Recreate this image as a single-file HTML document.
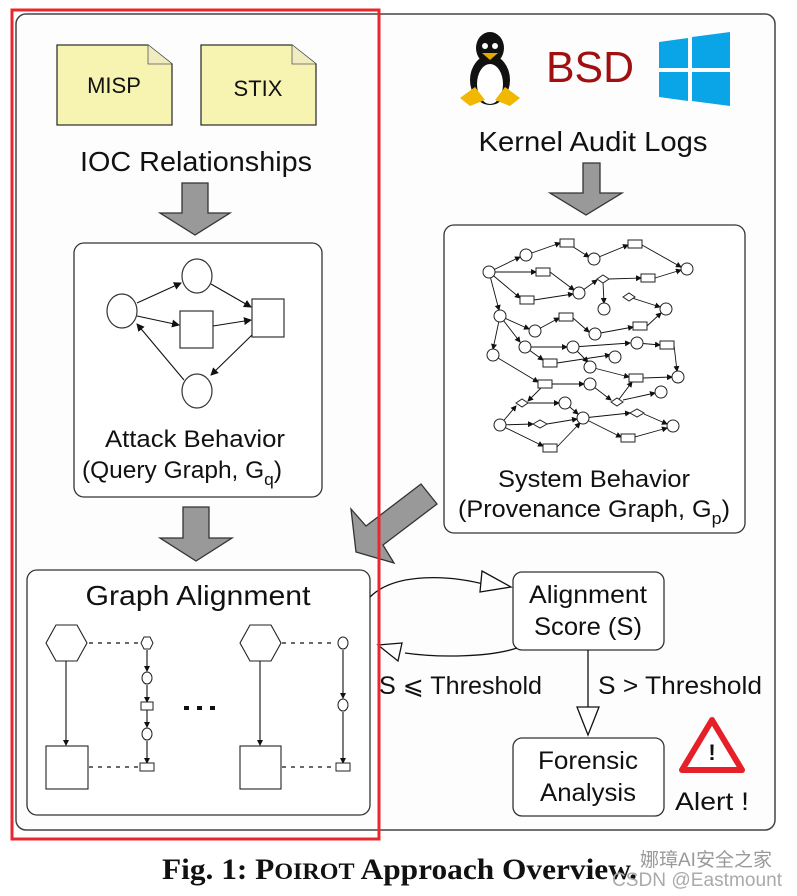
<!DOCTYPE html>
<html><head><meta charset="utf-8"><style>
html,body{margin:0;padding:0;background:#fff;}
svg{display:block;}
text{font-family:"Liberation Sans",sans-serif;fill:#111;}
</style></head><body>
<svg width="797" height="896" viewBox="0 0 797 896" xmlns="http://www.w3.org/2000/svg">
<defs>
<marker id="a" markerWidth="8" markerHeight="8" refX="7" refY="4" orient="auto" markerUnits="userSpaceOnUse"><path d="M0,0 L8,4 L0,8z" fill="#111"/></marker>
<marker id="s" markerWidth="6" markerHeight="6" refX="5" refY="3" orient="auto" markerUnits="userSpaceOnUse"><path d="M0,0 L6,3 L0,6z" fill="#111"/></marker>
</defs>
<rect x="16" y="14" width="759" height="816" rx="10" fill="#fdfdfd" stroke="#444" stroke-width="1.5"/>
<!-- notes -->
<path d="M57,45 H148 L172,64 V125 H57Z" fill="#f7f3b0" stroke="#333" stroke-width="1.3"/>
<path d="M148,45 V64 H172" fill="#f1ecc0" stroke="#555" stroke-width="0.8"/>
<text x="114" y="93" font-size="22" text-anchor="middle">MISP</text>
<path d="M201,45 H292 L316,64 V125 H201Z" fill="#f7f3b0" stroke="#333" stroke-width="1.3"/>
<path d="M292,45 V64 H316" fill="#f1ecc0" stroke="#555" stroke-width="0.8"/>
<text x="258" y="96" font-size="22" text-anchor="middle">STIX</text>
<text x="196" y="171" font-size="28" text-anchor="middle" textLength="232" lengthAdjust="spacingAndGlyphs">IOC Relationships</text>
<!-- big arrows -->
<g fill="#999" stroke="#333" stroke-width="1.3">
<path d="M182,183 H208 V213 H230 L195,235 L160,213 H182Z"/>
<path d="M183,507 H209 V538 H232 L196,561 L160,538 H183Z"/>
<path d="M583,163 H600 V193 H622 L586,215 L550,193 H583Z"/>
<path d="M421,484 L437,504 L383,545 L394,563 L356,552 L351,509 L366,526Z"/>
</g>
<!-- attack box -->
<rect x="74" y="243" width="248" height="254" rx="10" fill="#fff" stroke="#333" stroke-width="1.3"/>
<g fill="#fff" stroke="#333" stroke-width="1.2">
<ellipse cx="122" cy="311" rx="15" ry="17"/>
<ellipse cx="197" cy="276" rx="15" ry="17"/>
<ellipse cx="197" cy="391" rx="15" ry="17"/>
<rect x="180" y="311" width="33" height="37"/>
<rect x="252" y="299" width="32" height="38"/>
</g>
<g stroke="#111" stroke-width="1.1" marker-end="url(#a)">
<line x1="137" y1="303" x2="181" y2="283"/>
<line x1="137" y1="316" x2="179" y2="325"/>
<line x1="211" y1="284" x2="251" y2="307"/>
<line x1="213" y1="326" x2="251" y2="320"/>
<line x1="252" y1="335" x2="211" y2="375"/>
<line x1="184" y1="380" x2="137" y2="324"/>
</g>
<text x="195" y="447" font-size="24" text-anchor="middle" textLength="180" lengthAdjust="spacingAndGlyphs">Attack Behavior</text>
<text x="82" y="478" font-size="24" textLength="200" lengthAdjust="spacingAndGlyphs">(Query Graph, G<tspan font-size="17" dy="7">q</tspan><tspan dy="-7">)</tspan></text>
<!-- right top icons -->
<g>
<ellipse cx="490" cy="80" rx="20" ry="25" fill="#111"/>
<ellipse cx="490" cy="84" rx="13" ry="20" fill="#fff"/>
<ellipse cx="490" cy="48" rx="14" ry="16" fill="#111"/>
<circle cx="485" cy="46" r="3" fill="#fff"/><circle cx="495" cy="46" r="3" fill="#fff"/>
<path d="M482,53 L498,53 L490,60Z" fill="#e6a800"/>
<path d="M460,98 L475,87 L485,100 L470,106Z" fill="#f0b800"/>
<path d="M520,98 L505,87 L495,100 L510,106Z" fill="#f0b800"/>
</g>
<text x="590" y="82" font-size="44" fill="#a01010" style="fill:#a01010" text-anchor="middle" textLength="88" lengthAdjust="spacingAndGlyphs">BSD</text>
<g fill="#0aa5e6">
<path d="M659,42 L688,38 V68 H659Z"/><path d="M692,37 L730,32 V68 H692Z"/>
<path d="M659,72 H688 V101 L659,97Z"/><path d="M692,72 H730 V106 L692,101Z"/>
</g>
<text x="593" y="151" font-size="28" text-anchor="middle" textLength="229" lengthAdjust="spacingAndGlyphs">Kernel Audit Logs</text>
<!-- provenance -->
<rect x="444" y="225" width="301" height="308" rx="10" fill="#fff" stroke="#333" stroke-width="1.3"/>
<g stroke="#111" stroke-width="0.9" fill="none" marker-end="url(#s)">
<line x1="489" y1="272" x2="520" y2="257"/><line x1="526" y1="255" x2="560" y2="243"/><line x1="567" y1="243" x2="589" y2="257"/><line x1="594" y1="259" x2="628" y2="245"/><line x1="642" y1="245" x2="681" y2="267"/>
<line x1="489" y1="272" x2="536" y2="272"/><line x1="550" y1="272" x2="574" y2="290"/><line x1="489" y1="272" x2="520" y2="298"/><line x1="534" y1="300" x2="573" y2="294"/>
<line x1="579" y1="293" x2="597" y2="280"/><line x1="609" y1="279" x2="641" y2="278"/><line x1="603" y1="282" x2="604" y2="303"/><line x1="629" y1="297" x2="660" y2="307"/><line x1="655" y1="278" x2="681" y2="270"/>
<line x1="489" y1="272" x2="499" y2="310"/><line x1="500" y1="316" x2="529" y2="329"/><line x1="535" y1="331" x2="559" y2="318"/><line x1="573" y1="318" x2="589" y2="332"/><line x1="595" y1="334" x2="633" y2="327"/><line x1="647" y1="326" x2="661" y2="313"/>
<line x1="500" y1="316" x2="493" y2="349"/><line x1="500" y1="316" x2="520" y2="342"/><line x1="525" y1="347" x2="567" y2="347"/><line x1="525" y1="347" x2="543" y2="360"/><line x1="573" y1="347" x2="630" y2="343"/><line x1="637" y1="343" x2="660" y2="345"/>
<line x1="573" y1="347" x2="588" y2="362"/><line x1="590" y1="367" x2="629" y2="377"/><line x1="643" y1="378" x2="672" y2="377"/><line x1="674" y1="345" x2="677" y2="371"/><line x1="557" y1="363" x2="610" y2="355"/>
<line x1="493" y1="355" x2="538" y2="382"/><line x1="552" y1="384" x2="584" y2="384"/><line x1="590" y1="384" x2="611" y2="400"/><line x1="617" y1="402" x2="632" y2="382"/><line x1="623" y1="400" x2="655" y2="393"/>
<line x1="545" y1="384" x2="528" y2="401"/><line x1="528" y1="403" x2="559" y2="403"/><line x1="565" y1="403" x2="578" y2="414"/><line x1="500" y1="425" x2="516" y2="406"/><line x1="500" y1="425" x2="533" y2="424"/><line x1="547" y1="424" x2="577" y2="419"/>
<line x1="500" y1="425" x2="543" y2="446"/><line x1="557" y1="447" x2="580" y2="423"/><line x1="583" y1="418" x2="630" y2="413"/><line x1="644" y1="414" x2="667" y2="424"/><line x1="583" y1="418" x2="621" y2="437"/><line x1="635" y1="437" x2="667" y2="428"/>
</g>
<g fill="#fff" stroke="#222" stroke-width="1">
<circle cx="489" cy="272" r="6"/><circle cx="526" cy="255" r="6"/><circle cx="594" cy="259" r="6"/><circle cx="687" cy="269" r="6"/><circle cx="579" cy="293" r="6"/><circle cx="604" cy="309" r="6"/><circle cx="666" cy="309" r="6"/><circle cx="500" cy="316" r="6"/><circle cx="535" cy="331" r="6"/><circle cx="595" cy="334" r="6"/><circle cx="493" cy="355" r="6"/><circle cx="525" cy="347" r="6"/><circle cx="573" cy="347" r="6"/><circle cx="637" cy="343" r="6"/><circle cx="615" cy="357" r="6"/><circle cx="590" cy="367" r="6"/><circle cx="678" cy="377" r="6"/><circle cx="590" cy="384" r="6"/><circle cx="661" cy="392" r="6"/><circle cx="565" cy="403" r="6"/><circle cx="500" cy="425" r="6"/><circle cx="583" cy="418" r="6"/><circle cx="673" cy="426" r="6"/>
<rect x="560" y="239" width="14" height="8"/><rect x="628" y="240" width="14" height="8"/><rect x="536" y="268" width="14" height="8"/><rect x="520" y="296" width="14" height="8"/><rect x="641" y="274" width="14" height="8"/><rect x="559" y="313" width="14" height="8"/><rect x="633" y="322" width="14" height="8"/><rect x="543" y="359" width="14" height="8"/><rect x="660" y="341" width="14" height="8"/><rect x="629" y="374" width="14" height="8"/><rect x="538" y="380" width="14" height="8"/><rect x="621" y="434" width="14" height="8"/><rect x="543" y="444" width="14" height="8"/>
<path d="M597,279 L603,275 L609,279 L603,283Z"/><path d="M623,297 L629,293 L635,297 L629,301Z"/><path d="M611,402 L617,398 L623,402 L617,406Z"/><path d="M516,403 L522,399 L528,403 L522,407Z"/><path d="M533,424 L540,420 L547,424 L540,428Z"/><path d="M630,413 L637,409 L644,413 L637,417Z"/>
</g>
<text x="594" y="487" font-size="24" text-anchor="middle" textLength="192" lengthAdjust="spacingAndGlyphs">System Behavior</text>
<text x="458" y="517" font-size="24" textLength="272" lengthAdjust="spacingAndGlyphs">(Provenance Graph, G<tspan font-size="17" dy="7">p</tspan><tspan dy="-7">)</tspan></text>
<!-- graph alignment -->
<rect x="27" y="570" width="343" height="245" rx="10" fill="#fff" stroke="#333" stroke-width="1.3"/>
<text x="198" y="605" font-size="28" text-anchor="middle" textLength="225" lengthAdjust="spacingAndGlyphs">Graph Alignment</text>
<g fill="#fff" stroke="#222" stroke-width="1.1">
<path d="M46,643 L56,625 L77,625 L87,643 L77,661 L56,661Z"/>
<rect x="46" y="746" width="42" height="43"/>
<path d="M240,643 L250,625 L271,625 L281,643 L271,661 L250,661Z"/>
<rect x="240" y="746" width="41" height="43"/>
</g>
<g stroke="#111" stroke-width="1.1" marker-end="url(#s)">
<line x1="66" y1="661" x2="66" y2="745"/><line x1="260" y1="661" x2="260" y2="745"/>
<line x1="147" y1="650" x2="147" y2="671"/><line x1="147" y1="685" x2="147" y2="702"/><line x1="147" y1="710" x2="147" y2="727"/><line x1="147" y1="741" x2="147" y2="763"/>
<line x1="343" y1="650" x2="343" y2="698"/><line x1="343" y1="712" x2="343" y2="763"/>
</g>
<g stroke="#111" stroke-width="1.3" stroke-dasharray="4,5">
<line x1="89" y1="643" x2="140" y2="643"/><line x1="89" y1="767" x2="140" y2="767"/>
<line x1="282" y1="643" x2="336" y2="643"/><line x1="282" y1="767" x2="336" y2="767"/>
</g>
<g fill="#fff" stroke="#222" stroke-width="1">
<path d="M141,643 L144,637 L150,637 L153,643 L150,649 L144,649Z"/>
<ellipse cx="147" cy="678" rx="5" ry="6"/><rect x="141" y="702" width="12" height="8"/><ellipse cx="147" cy="734" rx="5" ry="6"/><rect x="140" y="763" width="14" height="8"/>
<ellipse cx="343" cy="643" rx="5" ry="6"/><ellipse cx="343" cy="705" rx="5" ry="6"/><rect x="336" y="763" width="14" height="8"/>
</g>
<g fill="#111"><rect x="184" y="706" width="5" height="4"/><rect x="197" y="706" width="5" height="4"/><rect x="210" y="706" width="5" height="4"/></g>
<!-- score loop -->
<rect x="513" y="572" width="151" height="78" rx="9" fill="#fff" stroke="#333" stroke-width="1.3"/>
<text x="588" y="603" font-size="25" text-anchor="middle" textLength="118" lengthAdjust="spacingAndGlyphs">Alignment</text>
<text x="588" y="635" font-size="25" text-anchor="middle" textLength="108" lengthAdjust="spacingAndGlyphs">Score (S)</text>
<path d="M370,597 C395,572 450,575 487,585" fill="none" stroke="#111" stroke-width="1.3"/>
<path d="M482,571 L511,587 L480,592Z" fill="#fff" stroke="#111" stroke-width="1.3"/>
<path d="M517,648 C490,657 440,658 405,653" fill="none" stroke="#111" stroke-width="1.3"/>
<path d="M402,643 L378,645 L398,661Z" fill="#fff" stroke="#111" stroke-width="1.3"/>
<line x1="588" y1="650" x2="588" y2="707" stroke="#111" stroke-width="1.3"/>
<path d="M577,707 L599,707 L588,735Z" fill="#fff" stroke="#111" stroke-width="1.3"/>
<text x="379" y="694" font-size="25" textLength="163" lengthAdjust="spacingAndGlyphs">S ⩽ Threshold</text>
<text x="598" y="694" font-size="25" textLength="164" lengthAdjust="spacingAndGlyphs">S &gt; Threshold</text>
<rect x="513" y="738" width="151" height="78" rx="9" fill="#fff" stroke="#333" stroke-width="1.3"/>
<text x="588" y="769" font-size="25" text-anchor="middle" textLength="100" lengthAdjust="spacingAndGlyphs">Forensic</text>
<text x="588" y="801" font-size="25" text-anchor="middle" textLength="96" lengthAdjust="spacingAndGlyphs">Analysis</text>
<path d="M712,720 L742,770 L682,770Z" fill="#fff" stroke="#e52028" stroke-width="6" stroke-linejoin="round"/>
<text x="712" y="760" font-size="22" font-weight="bold" text-anchor="middle">!</text>
<text x="712" y="810" font-size="25" text-anchor="middle" textLength="74" lengthAdjust="spacingAndGlyphs">Alert !</text>
<!-- red frame -->
<rect x="12" y="10" width="367" height="829" fill="none" stroke="#e8282c" stroke-width="3"/>
<!-- caption -->
<text x="162" y="879" font-size="30" font-weight="bold" style="font-family:'Liberation Serif',serif" textLength="475" lengthAdjust="spacingAndGlyphs">Fig. 1: P<tspan font-size="23">OIROT</tspan> Approach Overview.</text>
<text x="640" y="866" font-size="19" style="fill:#999;font-family:'Liberation Sans','Noto Sans CJK SC',sans-serif">娜璋AI安全之家</text>
<text x="612" y="886" font-size="19" style="fill:#aaa" textLength="170" lengthAdjust="spacingAndGlyphs">CSDN @Eastmount</text>
</svg>
</body></html>
